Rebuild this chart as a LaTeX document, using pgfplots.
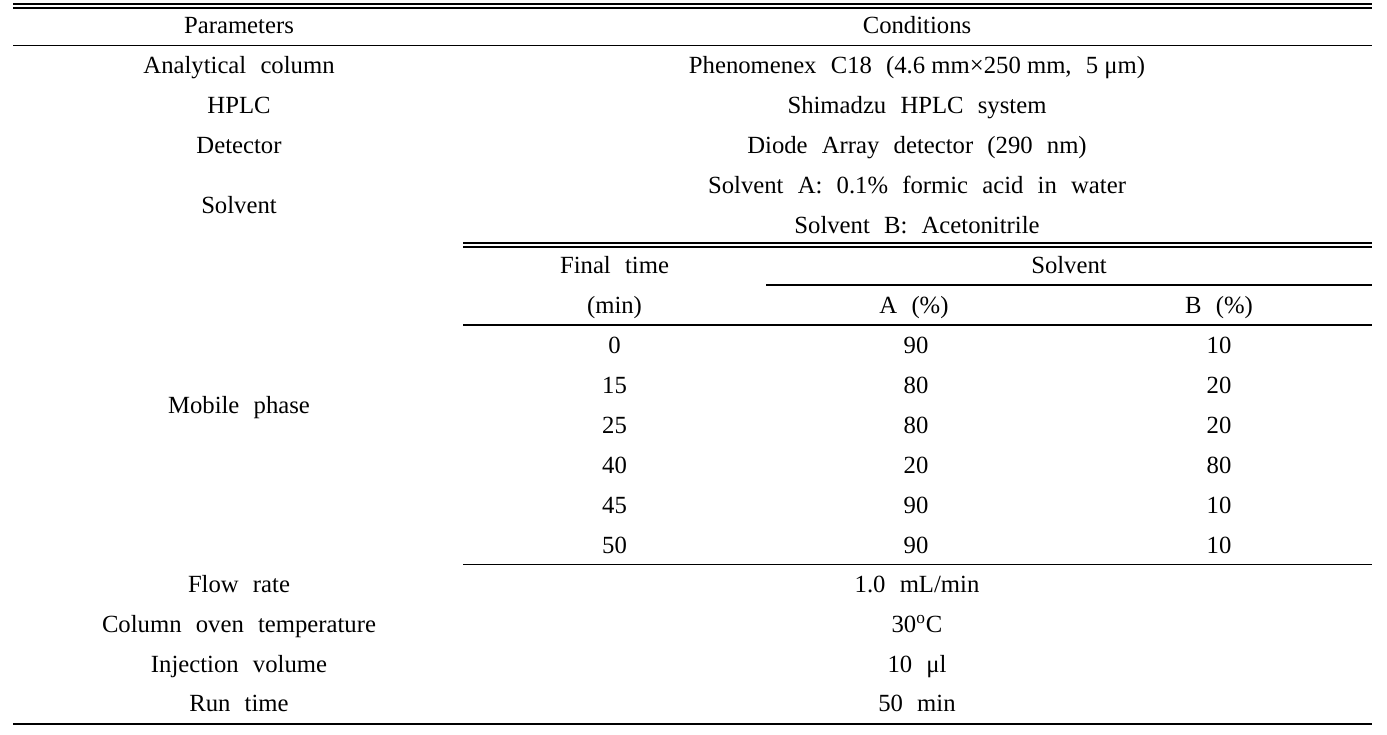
\documentclass[border=0pt]{standalone}
\usepackage{fontspec}
\setmainfont{Liberation Serif}[WordSpace=2.3]
\usepackage{pgfplots}
\pgfplotsset{compat=1.18}
\tikzset{cell/.style={font=\fontsize{12.35pt}{14pt}\selectfont, anchor=base, inner sep=0pt, text=black}}
\newcommand{\ns}{\hspace{0.25em}}
\begin{document}
\begin{tikzpicture}
\begin{axis}[scale only axis, width=693.5pt, height=367pt,
  xmin=0, xmax=1387, ymin=0, ymax=734, y dir=reverse, hide axis, clip=false]
\addplot[draw=none, no marks, forget plot] coordinates {(0,0) (1387,734)};
% rules
\addplot[black, no marks, line width=0.9pt, forget plot] coordinates {(13,4) (1372,4)};
\addplot[black, no marks, line width=0.9pt, forget plot] coordinates {(13,8) (1372,8)};
\addplot[black, no marks, line width=0.9pt, forget plot] coordinates {(13,45.5) (1372,45.5)};
\addplot[black, no marks, line width=0.9pt, forget plot] coordinates {(463,243) (1372,243)};
\addplot[black, no marks, line width=0.9pt, forget plot] coordinates {(463,247) (1372,247)};
\addplot[black, no marks, line width=0.9pt, forget plot] coordinates {(766,285) (1372,285)};
\addplot[black, no marks, line width=0.9pt, forget plot] coordinates {(463,325) (1372,325)};
\addplot[black, no marks, line width=0.9pt, forget plot] coordinates {(463,564.5) (1372,564.5)};
\addplot[black, no marks, line width=0.9pt, forget plot] coordinates {(13,724) (1372,724)};
% header
\node[cell] at (axis cs:239,33.5) {Parameters};
\node[cell] at (axis cs:917,33.5) {Conditions};
% rows
\node[cell] at (axis cs:239,73.5) {Analytical column};
\node[cell] at (axis cs:917,73.5) {Phenomenex C18 (4.6\ns mm×250\ns mm, 5\ns μm)};
\node[cell] at (axis cs:239,113.5) {HPLC};
\node[cell] at (axis cs:917,113.5) {Shimadzu HPLC system};
\node[cell] at (axis cs:239,153.5) {Detector};
\node[cell] at (axis cs:917,153.5) {Diode Array detector (290 nm)};
\node[cell] at (axis cs:239,213.5) {Solvent};
\node[cell] at (axis cs:917,193.5) {Solvent A: 0.1\% formic acid in water};
\node[cell] at (axis cs:917,233.5) {Solvent B: Acetonitrile};
% mobile phase
\node[cell] at (axis cs:614.5,273.5) {Final time};
\node[cell] at (axis cs:1069,273.5) {Solvent};
\node[cell] at (axis cs:614.5,313.5) {(min)};
\node[cell] at (axis cs:914,313.5) {A (\%)};
\node[cell] at (axis cs:1219,313.5) {B (\%)};
\node[cell] at (axis cs:239,413.5) {Mobile phase};
\node[cell] at (axis cs:614.5,353.5) {0};
\node[cell] at (axis cs:916,353.5) {90};
\node[cell] at (axis cs:1219,353.5) {10};
\node[cell] at (axis cs:614.5,393.5) {15};
\node[cell] at (axis cs:916,393.5) {80};
\node[cell] at (axis cs:1219,393.5) {20};
\node[cell] at (axis cs:614.5,433.5) {25};
\node[cell] at (axis cs:916,433.5) {80};
\node[cell] at (axis cs:1219,433.5) {20};
\node[cell] at (axis cs:614.5,473.5) {40};
\node[cell] at (axis cs:916,473.5) {20};
\node[cell] at (axis cs:1219,473.5) {80};
\node[cell] at (axis cs:614.5,513.5) {45};
\node[cell] at (axis cs:916,513.5) {90};
\node[cell] at (axis cs:1219,513.5) {10};
\node[cell] at (axis cs:614.5,553.5) {50};
\node[cell] at (axis cs:916,553.5) {90};
\node[cell] at (axis cs:1219,553.5) {10};
% bottom rows
\node[cell] at (axis cs:239,592.5) {Flow rate};
\node[cell] at (axis cs:917,592.5) {1.0 mL/min};
\node[cell] at (axis cs:239,632.5) {Column oven temperature};
\node[cell] at (axis cs:917,632.5) {30\textsuperscript{o}C};
\node[cell] at (axis cs:239,672.5) {Injection volume};
\node[cell] at (axis cs:917,672.5) {10 μl};
\node[cell] at (axis cs:239,711.5) {Run time};
\node[cell] at (axis cs:917,711.5) {50 min};
\end{axis}
\end{tikzpicture}
\end{document}
